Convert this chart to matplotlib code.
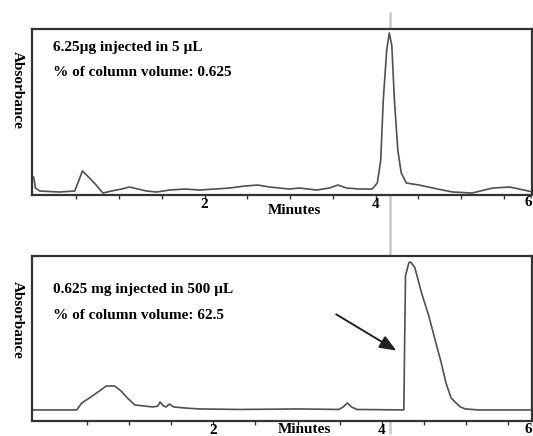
import matplotlib as mpl
mpl.use('Agg')
import matplotlib.pyplot as plt
from matplotlib.lines import Line2D
import numpy as np

plt.rcParams['font.family'] = ['Liberation Serif', 'DejaVu Serif']
plt.rcParams['font.weight'] = 'bold'

# top run: 6.25 ug in 5 uL
top_min = [0.0, 0.02, 0.07, 0.30, 0.48, 0.53, 0.57, 0.63, 0.71, 0.81, 0.91, 1.03,
           1.12, 1.22, 1.32, 1.44, 1.59, 1.77, 1.94, 2.12, 2.29, 2.47, 2.62, 2.76,
           2.99, 3.11, 3.31, 3.46, 3.56, 3.66, 3.81, 3.96, 4.02, 4.06, 4.09, 4.13,
           4.16, 4.19, 4.22, 4.26, 4.30, 4.36, 4.51, 4.67, 4.90, 5.13, 5.37, 5.57,
           5.68, 5.84]
top_abs = [0.108, 0.042, 0.024, 0.018, 0.024, 0.090, 0.145, 0.114, 0.072, 0.012,
           0.024, 0.036, 0.048, 0.036, 0.024, 0.018, 0.030, 0.036, 0.030, 0.036,
           0.042, 0.054, 0.060, 0.048, 0.036, 0.042, 0.030, 0.042, 0.060, 0.042,
           0.036, 0.036, 0.072, 0.21, 0.572, 0.873, 0.976, 0.90, 0.572, 0.27,
           0.133, 0.072, 0.060, 0.042, 0.018, 0.012, 0.042, 0.048, 0.036, 0.018]

# bottom run: 0.625 mg in 500 uL
bot_min = [-0.15, 0.38, 0.44, 0.53, 0.65, 0.73, 0.83, 0.91, 0.98, 1.07, 1.18, 1.28,
           1.34, 1.37, 1.41, 1.44, 1.48, 1.53, 1.66, 1.83, 2.31, 3.02, 3.49, 3.54,
           3.59, 3.64, 3.70, 4.26, 4.27, 4.28, 4.32, 4.34, 4.39, 4.47, 4.56, 4.64,
           4.70, 4.76, 4.82, 4.88, 4.93, 4.99, 5.15, 5.78]
bot_abs = [0.067, 0.067, 0.109, 0.139, 0.182, 0.212, 0.212, 0.18, 0.14, 0.097,
           0.091, 0.085, 0.09, 0.115, 0.091, 0.085, 0.103, 0.085, 0.079, 0.073,
           0.070, 0.073, 0.070, 0.085, 0.109, 0.085, 0.070, 0.067, 0.50, 0.88,
           0.96, 0.964, 0.93, 0.776, 0.63, 0.473, 0.36, 0.23, 0.14, 0.109, 0.085,
           0.073, 0.067, 0.067]

top_text = ['6.25\u00b5g injected in 5 \u00b5L', '% of column volume: 0.625']
bot_text = ['0.625 mg injected in 500 \u00b5L', '% of column volume: 62.5']

W, H = 533, 436


def px(x, y):
    return x / W, 1 - y / H


fig = plt.figure(figsize=(W / 100, H / 100), dpi=100)
ax1 = fig.add_axes([32 / W, 1 - 195 / H, 500 / W, 166 / H])
ax2 = fig.add_axes([32 / W, 1 - 421 / H, 500 / W, 165 / H])


def style(ax, xlim):
    ax.set_xlim(*xlim)
    ax.set_ylim(0, 1)
    ax.set_yticks([])
    ticks = np.arange(0.5, 5.9, 0.5)
    ax.set_xticks(ticks)
    ax.set_xticklabels(['2' if t == 2 else '4' if t == 4 else '' for t in ticks])
    ax.tick_params(axis='x', direction='out', length=3, width=1, color='#333333',
                   pad=-1, labelsize=11)
    for s in ax.spines.values():
        s.set_color('#333333')
        s.set_linewidth(1.6)


ax1.plot(top_min, top_abs, color='#505050', lw=1.2)
style(ax1, (-0.02, 5.83))
ax2.plot(bot_min, bot_abs, color='#505050', lw=1.2)
style(ax2, (-0.15, 5.78))

# labels placed like the original figure
fig.text(*px(528, 203), '6', ha='center', va='center', fontsize=11)
fig.text(*px(528, 429), '6', ha='center', va='center', fontsize=11)
fig.text(*px(294, 210), 'Minutes', ha='center', va='center', fontsize=11)
fig.text(*px(304, 429), 'Minutes', ha='center', va='center', fontsize=11)
fig.text(*px(17, 90), 'Absorbance', ha='center', va='center', rotation=270, fontsize=11)
fig.text(*px(17, 320), 'Absorbance', ha='center', va='center', rotation=270, fontsize=11)

fig.text(*px(53, 48), top_text[0], ha='left', va='center', fontsize=11)
fig.text(*px(53, 72), top_text[1], ha='left', va='center', fontsize=11)
fig.text(*px(53, 290), bot_text[0], ha='left', va='center', fontsize=11)
fig.text(*px(53, 315), bot_text[1], ha='left', va='center', fontsize=11)

ax2.annotate('', xy=(4.20, 0.418), xytext=(3.43, 0.655),
             arrowprops=dict(arrowstyle='-|>,head_length=1.0,head_width=0.4',
                             color='#222222', lw=1.4))

# grey marker line through both panels
fig.add_artist(Line2D([390 / W, 390 / W], [1 - 13 / H, 1 - 433 / H],
                      color='#c8c8c8', lw=1.8, zorder=0))

plt.savefig('out.png', dpi=100)
